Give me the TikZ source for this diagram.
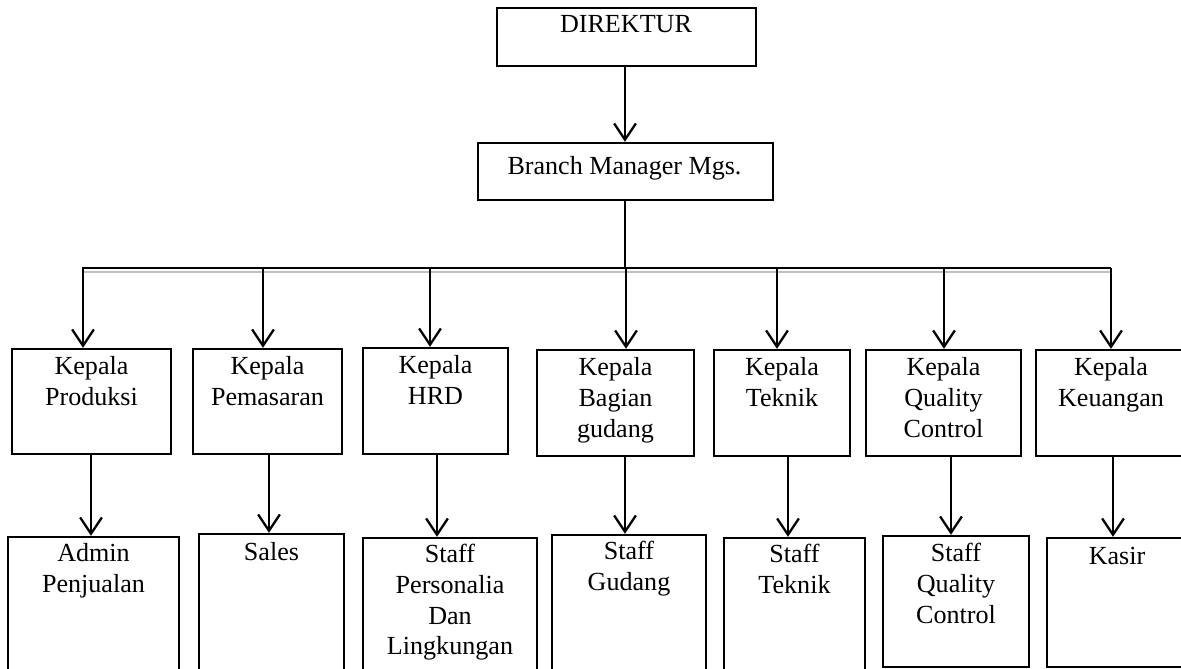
\documentclass[tikz,border=0pt]{standalone}
\usepackage{fontspec}
\setmainfont{Liberation Serif}
\usetikzlibrary{arrows.meta,fit}
\newcommand\mylines[1]{\begin{tabular}[t]{@{}c@{}}#1\end{tabular}}
\begin{document}
\begin{tikzpicture}[x=0.46pt,y=-0.46pt,
  box/.style={draw,line width=1.1pt,inner sep=0pt},
  lbl/.style={anchor=base,inner sep=0pt,font=\fontsize{12}{14.1}\selectfont},
  arr/.style={line width=1.05pt,-{Straight Barb[length=7.5pt,width=10pt,line width=1.05pt]}},
  ln/.style={line width=1.05pt},
  shadowln/.style={line width=1pt,draw=black!25}]
\useasboundingbox (0,0) rectangle (1181,669);
\clip (0,0) rectangle (1181,669);

% top boxes
\node[box,fit={(497,8) (756,66)}] (dir) {};
\node[lbl] (tdir) at (626,33) {DIREKTUR};
\node[box,fit={(478,143) (773,200)}] (bm) {};
\node[lbl] (tbm) at (624.5,175) {Branch Manager Mgs.};

% row 1
\node[box,fit={(12,349) (171,454)}] (k1) {};
\node[lbl] (tk1) at (91.5,375) {\mylines{Kepala\\Produksi}};
\node[box,fit={(193,349) (342,454)}] (k2) {};
\node[lbl] (tk2) at (267.5,375) {\mylines{Kepala\\Pemasaran}};
\node[box,fit={(363,348) (508,454)}] (k3) {};
\node[lbl] (tk3) at (435.5,374) {\mylines{Kepala\\HRD}};
\node[box,fit={(537,350) (694,456)}] (k4) {};
\node[lbl] (tk4) at (615.5,376) {\mylines{Kepala\\Bagian\\gudang}};
\node[box,fit={(714,350) (850,456)}] (k5) {};
\node[lbl] (tk5) at (782,376) {\mylines{Kepala\\Teknik}};
\node[box,fit={(866,350) (1021,456)}] (k6) {};
\node[lbl] (tk6) at (943.5,376) {\mylines{Kepala\\Quality\\Control}};
\node[box,fit={(1036,350) (1195,456)}] (k7) {};
\node[lbl] (tk7) at (1111,376) {\mylines{Kepala\\Keuangan}};

% row 2
\node[box,fit={(8,537) (179,690)}] (s1) {};
\node[lbl] (ts1) at (93.5,562) {\mylines{Admin\\Penjualan}};
\node[box,fit={(199,534) (344,690)}] (s2) {};
\node[lbl] (ts2) at (271.5,561) {Sales};
\node[box,fit={(363,538) (537,690)}] (s3) {};
\node[lbl] (ts3) at (450,563) {\mylines{Staff\\Personalia\\Dan\\Lingkungan}};
\node[box,fit={(552,535) (706,690)}] (s4) {};
\node[lbl] (ts4) at (629,560) {\mylines{Staff\\Gudang}};
\node[box,fit={(724,538) (865,690)}] (s5) {};
\node[lbl] (ts5) at (794.5,563) {\mylines{Staff\\Teknik}};
\node[box,fit={(883,536) (1029,667)}] (s6) {};
\node[lbl] (ts6) at (956,562) {\mylines{Staff\\Quality\\Control}};
\node[box,fit={(1047,538) (1195,667)}] (s7) {};
\node[lbl] (ts7) at (1117,565) {Kasir};

% connectors
\coordinate (xd) at (625,0);
\draw[arr] (dir.south -| xd) -- (bm.north -| xd);

\coordinate (bl) at (82,268);
\coordinate (br) at (1111,268);
\draw[shadowln] ([yshift=-1.9pt]bl) -- ([yshift=-1.9pt]br);
\draw[ln] (bm.south -| xd) -- (bl -| xd);
\draw[ln] (bl) -- (br);

\coordinate (xa1) at (83,268);
\coordinate (xa2) at (263,268);
\coordinate (xa3) at (430,268);
\coordinate (xa4) at (626,268);
\coordinate (xa5) at (777,268);
\coordinate (xa6) at (944,268);
\coordinate (xa7) at (1111,268);
\foreach \i in {1,...,7} {\draw[arr] (xa\i) -- (xa\i |- k\i.north);}

\coordinate (xb1) at (91,0);
\coordinate (xb2) at (269,0);
\coordinate (xb3) at (437,0);
\coordinate (xb4) at (625,0);
\coordinate (xb5) at (788,0);
\coordinate (xb6) at (951,0);
\coordinate (xb7) at (1113,0);
\foreach \i in {1,...,7} {\draw[arr] (k\i.south -| xb\i) -- (s\i.north -| xb\i);}
\end{tikzpicture}
\end{document}
